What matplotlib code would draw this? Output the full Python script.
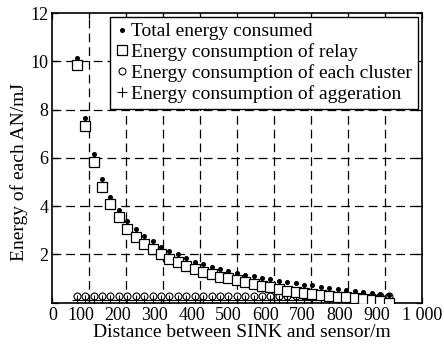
#! /usr/bin/env python3

import matplotlib
matplotlib.use("Agg")
import matplotlib.pyplot as plt
import matplotlib.transforms as mtransforms


# Distance between SINK and sensor (m), one value per sensor group.
distance = [66, 89, 112, 134, 157, 180, 203, 226, 248, 271,
            294, 317, 340, 362, 385, 408, 431, 454, 476, 499,
            522, 545, 568, 590, 613, 636, 659, 682, 704, 727,
            750, 773, 796, 818, 841, 864, 887, 910]

# Energy (mJ).
total = [10.16, 7.67, 6.15, 5.12, 4.37, 3.84, 3.40, 3.06, 2.75, 2.54,
         2.32, 2.16, 2.00, 1.83, 1.69, 1.58, 1.47, 1.40, 1.31, 1.24,
         1.16, 1.09, 1.04, 0.97, 0.90, 0.84, 0.80, 0.75, 0.71, 0.66,
         0.61, 0.57, 0.53, 0.48, 0.44, 0.40, 0.36, 0.32]
relay = [9.85, 7.34, 5.85, 4.81, 4.08, 3.56, 3.06, 2.73, 2.44, 2.21,
         2.02, 1.82, 1.67, 1.53, 1.38, 1.28, 1.17, 1.07, 1.02, 0.93,
         0.84, 0.77, 0.69, 0.64, 0.57, 0.50, 0.43, 0.39, 0.35, 0.30,
         0.28, 0.25, 0.22, 0.18, 0.14, 0.11, 0.06, 0.00]
cluster = [0.27] * len(distance)
aggregation = [0.12] * len(distance)

xticks = [0, 100, 200, 300, 400, 500, 600, 700, 800, 900, 1000]
xlabels = ["0", "100", "200", "300", "400", "500", "600", "700", "800",
           "900", "1 000"]
yticks = [0, 2, 4, 6, 8, 10, 12]
ylabels = ["", "2", "4", "6", "8", "10", "12"]

plt.rcParams["font.family"] = ["Liberation Serif", "DejaVu Serif"]

fig = plt.figure(figsize=(4.44, 3.49), dpi=100)
ax = fig.add_axes([0.118, 0.133, 0.832, 0.829])

ax.plot(distance, aggregation, "+", color="black", ms=7, mew=0.8,
        label="Energy consumption of aggeration", zorder=5)
ax.plot(distance, cluster, "o", mfc="white", mec="black", ms=5, mew=0.8,
        label="Energy consumption of each cluster", zorder=4)
ax.plot(distance, relay, "s", mfc="white", mec="black", ms=7, mew=0.9,
        label="Energy consumption of relay", zorder=5)
ax.plot(distance, total, "o", color="black", ms=2.6,
        label="Total energy consumed", zorder=6)

ax.set_xlim(0, 1000)
ax.set_ylim(0, 12)
ax.set_xticks(xticks)
ax.set_xticklabels(xlabels)
ax.set_yticks(yticks)
ax.set_yticklabels(ylabels)
ax.tick_params(direction="in", top=True, right=True, length=4, width=0.9,
               labelsize=13, pad=3, colors="black")

# labels 100..900 sit a little left of their ticks in the original
shift = mtransforms.ScaledTranslation(-8.5 / 100, 0, fig.dpi_scale_trans)
for lab in ax.get_xticklabels()[1:-1]:
    lab.set_transform(lab.get_transform() + shift)

for s in ax.spines.values():
    s.set_linewidth(1.2)

for x in xticks[1:-1]:
    ax.axvline(x, color="black", lw=0.9, ls=(0, (7, 4)), zorder=1)
for y in yticks[1:-1]:
    ax.axhline(y, color="black", lw=0.9, ls=(0, (7, 4)), zorder=1)

ax.set_xlabel("Distance between SINK and sensor/m", fontsize=14)
ax.set_ylabel("Energy of each AN/mJ", fontsize=14)
ax.xaxis.set_label_coords(0.513, -0.075)
ax.yaxis.set_label_coords(-0.065, 0.452)

handles, labels = ax.get_legend_handles_labels()
leg = ax.legend(handles[::-1], labels[::-1], loc="upper right",
                bbox_to_anchor=(0.99, 0.987), fontsize=14, frameon=True,
                fancybox=False, framealpha=1, edgecolor="black",
                handlelength=0.6, handletextpad=0.2, labelspacing=0.15,
                borderpad=0.3, borderaxespad=0)
leg.get_frame().set_linewidth(1.0)
leg.set_zorder(10)

fig.savefig("out.png", dpi=100)
